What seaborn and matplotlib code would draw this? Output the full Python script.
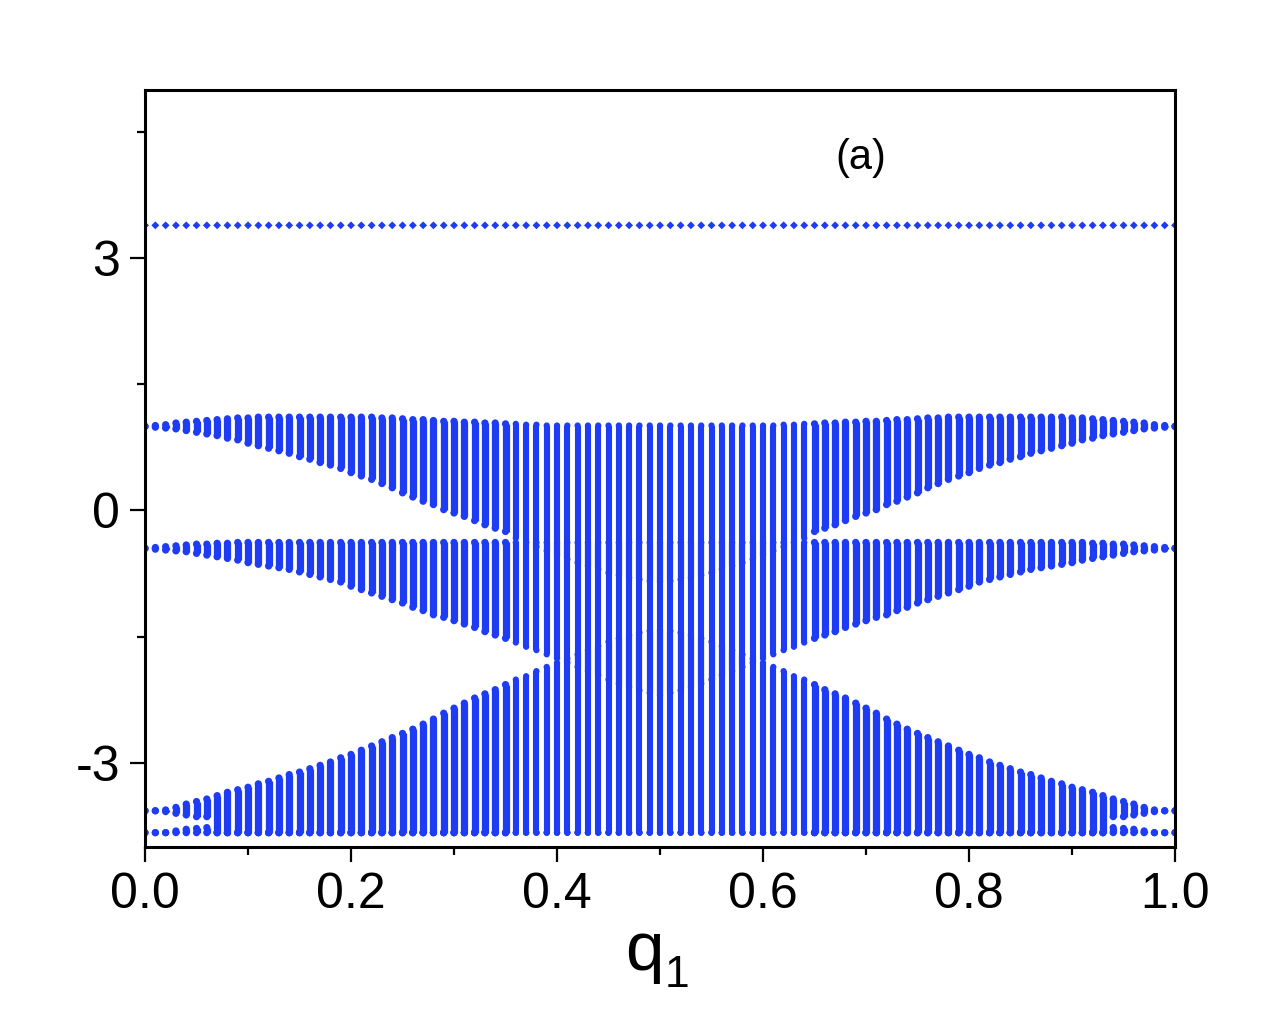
import matplotlib
matplotlib.use("Agg")
import matplotlib.pyplot as plt
import numpy as np
import pandas as pd
import seaborn as sns
from matplotlib.ticker import MultipleLocator, FormatStrFormatter

# ── style ──
sns.set_theme(style="ticks")
plt.rcParams["font.family"] = ["Liberation Sans", "DejaVu Sans"]
plt.rcParams["axes.unicode_minus"] = False

BLUE = "#1f3cf5"

# ── data: one column of eigenvalues every 0.01 in q1, bands given by their edges ──
q1 = np.linspace(0.0, 1.0, 101)

flat_band = [3.39] * 101

top_A = ([1.00, 1.01, 1.02, 1.04, 1.05, 1.06, 1.07, 1.08, 1.09, 1.10]
         + [1.10, 1.11, 1.11, 1.11, 1.11, 1.11, 1.11, 1.11, 1.11, 1.11]
         + [1.11, 1.11, 1.11, 1.10, 1.10, 1.09, 1.08, 1.08, 1.07, 1.06]
         + [1.06, 1.05, 1.05, 1.04, 1.04, 1.03, 1.03, 1.02, 1.02, 1.01]
         + [1.01] * 20
         + [1.01, 1.01, 1.02, 1.02, 1.03, 1.03, 1.04, 1.04, 1.05, 1.05]
         + [1.06, 1.06, 1.07, 1.08, 1.08, 1.09, 1.10, 1.10, 1.11, 1.11]
         + [1.11] * 10
         + [1.10, 1.10, 1.09, 1.08, 1.07, 1.06, 1.05, 1.04, 1.02, 1.01]
         + [1.00])

bot_A = ([1.00, 0.99, 0.98, 0.97, 0.95, 0.93, 0.91, 0.89, 0.86, 0.84]
         + [0.80, 0.77, 0.74, 0.71, 0.68, 0.64, 0.61, 0.57, 0.54, 0.50]
         + [0.45, 0.41, 0.37, 0.32, 0.27, 0.21, 0.16, 0.11, 0.07, 0.01]
         + [-0.03, -0.07, -0.12, -0.17, -0.21, -0.25, -0.33, -0.38, -0.43, -0.48]
         + [-0.53, -0.58, -0.62, -0.66, -0.70, -0.74, -0.77, -0.80, -0.82, -0.84]
         + [-0.85, -0.84, -0.82, -0.80, -0.77, -0.74, -0.70, -0.66, -0.62, -0.58]
         + [-0.53, -0.48, -0.43, -0.38, -0.33, -0.25, -0.21, -0.17, -0.12, -0.07]
         + [-0.03, 0.01, 0.07, 0.11, 0.16, 0.21, 0.27, 0.32, 0.37, 0.41]
         + [0.45, 0.50, 0.54, 0.57, 0.61, 0.64, 0.68, 0.71, 0.74, 0.77]
         + [0.80, 0.84, 0.86, 0.89, 0.91, 0.93, 0.95, 0.97, 0.98, 0.99]
         + [1.00])

top_B = ([-0.45, -0.44, -0.43, -0.42, -0.41, -0.40, -0.40, -0.39, -0.39, -0.38]
         + [-0.38] * 80
         + [-0.38, -0.38, -0.39, -0.39, -0.40, -0.40, -0.41, -0.42, -0.43, -0.44]
         + [-0.45])

bot_B = ([-0.45, -0.46, -0.47, -0.48, -0.49, -0.51, -0.53, -0.55, -0.57, -0.59]
         + [-0.62, -0.64, -0.66, -0.68, -0.70, -0.73, -0.76, -0.79, -0.82, -0.85]
         + [-0.90, -0.94, -0.98, -1.02, -1.06, -1.10, -1.15, -1.19, -1.24, -1.27]
         + [-1.31, -1.35, -1.39, -1.44, -1.48, -1.52, -1.57, -1.62, -1.66, -1.71]
         + [-1.76, -1.81, -1.86, -1.91, -1.96, -2.01, -2.06, -2.10, -2.14, -2.17]
         + [-2.20, -2.17, -2.14, -2.10, -2.06, -2.01, -1.96, -1.91, -1.86, -1.81]
         + [-1.76, -1.71, -1.66, -1.62, -1.57, -1.52, -1.48, -1.44, -1.39, -1.35]
         + [-1.31, -1.27, -1.24, -1.19, -1.15, -1.10, -1.06, -1.02, -0.98, -0.94]
         + [-0.90, -0.85, -0.82, -0.79, -0.76, -0.73, -0.70, -0.68, -0.66, -0.64]
         + [-0.62, -0.59, -0.57, -0.55, -0.53, -0.51, -0.49, -0.48, -0.47, -0.46]
         + [-0.45])

top_C = ([-3.57, -3.57, -3.56, -3.53, -3.49, -3.46, -3.43, -3.39, -3.35, -3.32]
         + [-3.29, -3.25, -3.22, -3.18, -3.14, -3.11, -3.07, -3.03, -2.99, -2.94]
         + [-2.90, -2.85, -2.80, -2.75, -2.70, -2.65, -2.60, -2.54, -2.48, -2.41]
         + [-2.35, -2.29, -2.23, -2.18, -2.13, -2.07, -2.01, -1.97, -1.91, -1.86]
         + [-1.81, -1.76, -1.71, -1.66, -1.61, -1.56, -1.52, -1.48, -1.45, -1.43]
         + [-1.42, -1.43, -1.45, -1.48, -1.52, -1.56, -1.61, -1.66, -1.71, -1.76]
         + [-1.81, -1.86, -1.91, -1.97, -2.01, -2.07, -2.13, -2.18, -2.23, -2.29]
         + [-2.35, -2.41, -2.48, -2.54, -2.60, -2.65, -2.70, -2.75, -2.80, -2.85]
         + [-2.90, -2.94, -2.99, -3.03, -3.07, -3.11, -3.14, -3.18, -3.22, -3.25]
         + [-3.29, -3.32, -3.35, -3.39, -3.43, -3.46, -3.49, -3.53, -3.56, -3.57]
         + [-3.57])

bot_C = ([-3.57, -3.57, -3.58, -3.60, -3.62, -3.64, -3.64]
         + [-3.83] * 87
         + [-3.64, -3.64, -3.62, -3.60, -3.58, -3.57, -3.57])

top_D = ([-3.83, -3.83, -3.83, -3.81, -3.79, -3.78, -3.77]
         + [-3.83] * 87
         + [-3.77, -3.78, -3.79, -3.81, -3.83, -3.83, -3.83])

bot_D = [-3.83] * 101

bands = {"A": (bot_A, top_A), "B": (bot_B, top_B), "C": (bot_C, top_C), "D": (bot_D, top_D)}

rows = []
for name, (lo, hi) in bands.items():
    for i, (a, b) in enumerate(zip(lo, hi)):
        rows.append({"q1": q1[i], "E": a, "seg": f"{name}{i}"})
        rows.append({"q1": q1[i], "E": b, "seg": f"{name}{i}"})
df = pd.DataFrame(rows)

# columns in the crossing region are sparser (dotted) -> draw them a bit thinner
middle = df["q1"].between(0.355, 0.645)

# ── plot ──
fig = plt.figure(figsize=(12.7, 10.24), dpi=100)
ax = fig.add_axes([0.1142, 0.1729, 0.8110, 0.7393])

sns.lineplot(data=df[~middle], x="q1", y="E", units="seg", estimator=None, sort=False,
             color=BLUE, lw=5.2, solid_capstyle="butt", legend=False, ax=ax)
sns.lineplot(data=df[middle], x="q1", y="E", units="seg", estimator=None, sort=False,
             color=BLUE, lw=4.4, solid_capstyle="butt", legend=False, ax=ax)
sns.scatterplot(data=df[~middle], x="q1", y="E", marker="o", s=27, color=BLUE,
                edgecolor="none", legend=False, ax=ax)
sns.scatterplot(data=df[middle], x="q1", y="E", marker="o", s=20, color=BLUE,
                edgecolor="none", legend=False, ax=ax)
sns.scatterplot(x=q1, y=flat_band, marker="D", s=16, color=BLUE,
                edgecolor="none", legend=False, ax=ax)

ax.set_xlim(0, 1)
ax.set_ylim(-4, 5)
ax.xaxis.set_major_locator(MultipleLocator(0.2))
ax.xaxis.set_minor_locator(MultipleLocator(0.1))
ax.xaxis.set_major_formatter(FormatStrFormatter("%.1f"))
ax.yaxis.set_major_locator(MultipleLocator(3))
ax.yaxis.set_minor_locator(MultipleLocator(1.5))

ax.tick_params(which="both", direction="out", top=False, right=False, width=1.6,
               color="black", labelcolor="black")
ax.tick_params(which="major", length=11, labelsize=36, pad=7)
ax.tick_params(which="minor", length=5.5)
for sp in ax.spines.values():
    sp.set_visible(True)
    sp.set_linewidth(2.2)
    sp.set_color("black")

ax.set_xlabel("")
ax.set_ylabel("")
# x label "q" with a low, fairly large subscript "1"
fig.text(0.492, 0.053, "q", fontsize=50, ha="left", va="baseline", color="black")
fig.text(0.5236, 0.036, "1", fontsize=32, ha="left", va="baseline", color="black")

ax.text(0.695, 0.91, "(a)", transform=ax.transAxes, fontsize=30,
        ha="center", va="center", color="black")

fig.savefig("out.png", dpi=100)
